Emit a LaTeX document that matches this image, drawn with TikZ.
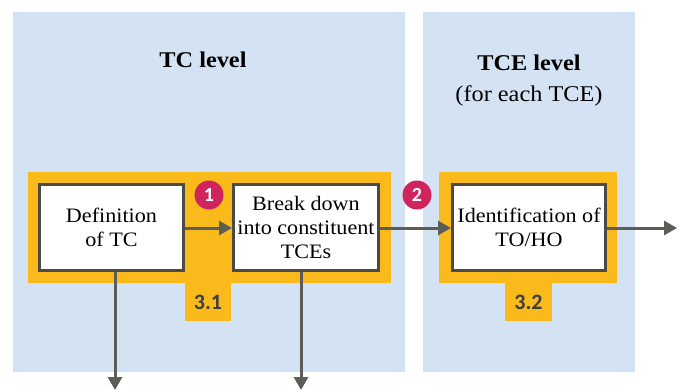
\documentclass[tikz,border=0pt]{standalone}
\usepackage{fontspec}
\setmainfont[FakeStretch=1.08]{Liberation Serif}
\newfontfamily\tabfont{Carlito}
\usetikzlibrary{arrows.meta}

\definecolor{panelblue}{HTML}{D3E3F4}
\definecolor{bandyellow}{HTML}{FBBA1C}
\definecolor{edgegray}{HTML}{5C5C58}
\definecolor{boxgray}{HTML}{4A4A46}
\definecolor{badgered}{HTML}{D0245E}
\definecolor{tabtext}{HTML}{3F3F3F}

\tikzset{
  panel/.style={fill=panelblue, draw=none},
  band/.style={fill=bandyellow, draw=none},
  stepbox/.style={draw=boxgray, fill=white, line width=3pt, align=center,
    inner sep=0pt, font=\fontsize{20.5}{24}\selectfont},
  flow/.style={draw=edgegray, line width=3pt,
    -{Triangle[length=13pt, width=14pt]}},
  badge/.style={circle, fill=badgered, text=white, minimum size=29pt,
    inner sep=0pt, font=\tabfont\bfseries\fontsize{20}{20}\selectfont},
  tablabel/.style={text=tabtext, font=\tabfont\bfseries\fontsize{22}{22}\selectfont},
  title/.style={align=center, font=\fontsize{22.5}{31}\selectfont}
}

\begin{document}
\begin{tikzpicture}[x=1pt, y=-1pt]
  \useasboundingbox (0,0) rectangle (679,390);
  \fill[white] (0,0) rectangle (679,390);

  % level panels
  \fill[panel] (13,12) rectangle (405,372);
  \fill[panel] (423,12) rectangle (635,372);

  % headings
  \node[title] (tctitle) at (203,60) {\textbf{TC level}};
  \node[title] (tcetitle) at (529,81) {\textbf{TCE level}\\(for each TCE)};

  % yellow step bands with their tabs
  \fill[band] (28,172) rectangle (391,283);
  \fill[band] (185,282) rectangle (231,321);
  \fill[band] (439,172) rectangle (617,283);
  \fill[band] (505,282) rectangle (552,321);
  \node[tablabel] (tab31) at (208,302) {3.1};
  \node[tablabel] (tab32) at (528.5,302) {3.2};

  % steps
  \node[stepbox, minimum width=144pt, minimum height=86pt] (def) at (111.5,227.5)
    {Definition\\of TC};
  \node[stepbox, minimum width=145pt, minimum height=86pt] (brk) at (306,227.5)
    {Break down\\into constituent\\TCEs};
  \node[stepbox, minimum width=153pt, minimum height=86pt] (ident) at (529,227.5)
    {Identification of\\TO/HO};

  % free ends of the outgoing connectors
  \coordinate (outdef) at (115,390);
  \coordinate (outbrk) at (301,390);
  \coordinate (outid) at (677,228);

  % connectors
  \draw[flow] (def.east |- 0,228) -- (brk.west |- 0,228);
  \draw[flow] (brk.east |- 0,228) -- (ident.west |- 0,228);
  \draw[flow] (ident.east |- 0,228) -- (outid);
  \draw[flow] (def.south -| outdef) -- (outdef);
  \draw[flow] (brk.south -| outbrk) -- (outbrk);

  % step numbers
  \node[badge] (b1) at (209,195) {1};
  \node[badge] (b2) at (417,195) {2};
\end{tikzpicture}
\end{document}
